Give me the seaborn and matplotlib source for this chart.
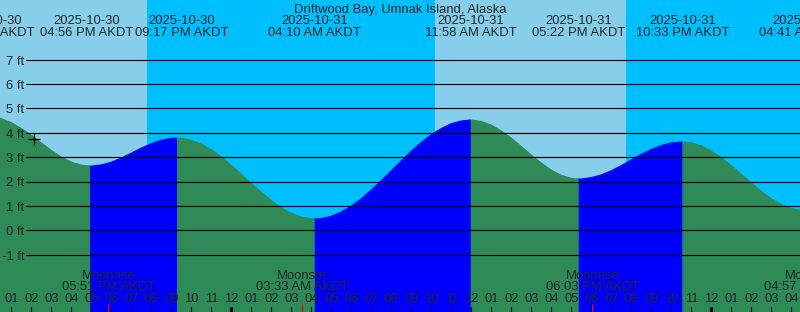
import numpy as np
import pandas as pd
import matplotlib
matplotlib.use("Agg")
import matplotlib.pyplot as plt
import matplotlib.transforms as mtransforms
import seaborn as sns

# ---------------- data (hours since 2025-10-30 00:00 AKDT, heights in ft) ----------------
title = "Driftwood Bay, Umnak Island, Alaska"

# tide height read every half hour
hour_t = [12.0, 12.5, 13.0, 13.5, 14.0, 14.5, 15.0, 15.5, 16.0, 16.5,
          17.0, 17.5, 18.0, 18.5, 19.0, 19.5, 20.0, 20.5, 21.0, 21.5,
          22.0, 22.5, 23.0, 23.5, 24.0, 24.5, 25.0, 25.5, 26.0, 26.5,
          27.0, 27.5, 28.0, 28.5, 29.0, 29.5, 30.0, 30.5, 31.0, 31.5,
          32.0, 32.5, 33.0, 33.5, 34.0, 34.5, 35.0, 35.5, 36.0, 36.5,
          37.0, 37.5, 38.0, 38.5, 39.0, 39.5, 40.0, 40.5, 41.0, 41.5,
          42.0, 42.5, 43.0, 43.5, 44.0, 44.5, 45.0, 45.5, 46.0, 46.5,
          47.0, 47.5, 48.0, 48.5, 49.0, 49.5, 50.0, 50.5, 51.0, 51.5,
          52.0, 52.5, 53.0]
hour_h = [4.65, 4.57, 4.41, 4.17, 3.89, 3.58, 3.27, 3.00, 2.79, 2.67,
          2.63, 2.68, 2.79, 2.96, 3.16, 3.37, 3.55, 3.69, 3.77, 3.77,
          3.69, 3.53, 3.30, 3.00, 2.66, 2.29, 1.91, 1.55, 1.21, 0.92,
          0.69, 0.54, 0.47, 0.48, 0.57, 0.75, 0.99, 1.29, 1.65, 2.03,
          2.44, 2.84, 3.24, 3.60, 3.92, 4.17, 4.37, 4.48, 4.52, 4.46,
          4.31, 4.07, 3.77, 3.43, 3.08, 2.75, 2.46, 2.25, 2.13, 2.10,
          2.16, 2.27, 2.44, 2.65, 2.88, 3.11, 3.31, 3.47, 3.58, 3.62,
          3.58, 3.46, 3.25, 2.97, 2.65, 2.29, 1.94, 1.59, 1.29, 1.05,
          0.89, 0.81, 0.81]

ext_t = [11.867, 16.933, 21.283, 28.167, 35.967, 41.367, 46.55, 52.683]
ext_h = [4.65, 2.63, 3.78, 0.46, 4.52, 2.10, 3.62, 0.80]
ext_date = ["2025-10-30", "2025-10-30", "2025-10-30", "2025-10-31",
            "2025-10-31", "2025-10-31", "2025-10-31", "2025-11-01"]
ext_time = ["11:52 AM AKDT", "04:56 PM AKDT", "09:17 PM AKDT", "04:10 AM AKDT",
            "11:58 AM AKDT", "05:22 PM AKDT", "10:33 PM AKDT", "04:41 AM AKDT"]

moon_t = [17.85, 27.55, 42.05, 52.95]
moon_kind = ["Moonrise", "Moonset", "Moonrise", "Moonset"]
moon_time = ["05:51 PM AKDT", "03:33 AM AKDT", "06:03 PM AKDT", "04:57 AM AKDT"]

sunset_t = [19.785, 43.735]
sunrise_t = [34.185]

now_t = [14.135]
now_h = [3.73]

y_ticks = [-1, 0, 1, 2, 3, 4, 5, 6, 7]

# ---------------- styling ----------------
sns.set_style("white")
plt.rcParams["font.family"] = ["Liberation Sans", "DejaVu Sans"]
FS = 9.4
DY = 2.0  # vertical text correction in pixels

DAY = "#87CEEB"
NIGHT = "#00BFFF"
FLOOD = "#0000FF"
EBB = "#2E8B57"

W, H = 800, 312
fig = plt.figure(figsize=(W / 100, H / 100), dpi=100)
ax = fig.add_axes([0, 0, 1, 1])

# pixel geometry: hour 13 at x=11.3px, 20 px/hour ; 0 ft at y=230.3px, 24.4 px/ft
t0 = 13 - 11.3 / 20
t1 = t0 + W / 20
y_top = 230.3 / 24.4
y_bot = -(H - 230.3) / 24.4

# day / night background
edges = sorted([t0 - 5] + sunset_t + sunrise_t + [t1 + 5])
night = False  # starts in daytime
for a, b in zip(edges[:-1], edges[1:]):
    ax.axvspan(a, b, color=NIGHT if night else DAY, lw=0, zorder=0)
    night = not night

# tide curve: blue while rising (flood), green while falling (ebb)
curve = pd.DataFrame({"t": hour_t + ext_t, "h": hour_h + ext_h})
curve = curve.drop_duplicates("t").sort_values("t")
for i in range(len(ext_t) - 1):
    a, b = ext_t[i], ext_t[i + 1]
    seg = curve[(curve.t >= a) & (curve.t <= b)]
    col = FLOOD if ext_h[i + 1] > ext_h[i] else EBB
    ax.fill_between(seg.t, seg.h, y_bot - 1, color=col, lw=0.6, edgecolor=col, zorder=1)
    sns.lineplot(data=seg, x="t", y="h", color=col, lw=0.8, ax=ax, zorder=2,
                 estimator=None, sort=True)

ax.set_xlim(t0, t1)
ax.set_ylim(y_bot, y_top)
ax.axis("off")

txt_shift = mtransforms.ScaledTranslation(0, -DY / 100, fig.dpi_scale_trans)

# horizontal height lines and labels
xfrac_start = 26 / W
for yv in y_ticks:
    ax.axhline(yv, xmin=xfrac_start, xmax=1, color="black", lw=0.85, zorder=3)
    ax.text(24.5 / W, yv, f"{yv} ft", transform=ax.get_yaxis_transform() + txt_shift,
            ha="right", va="center", fontsize=FS, zorder=5)

bx = ax.get_xaxis_transform()  # x data, y axes fraction

def fy(px):
    return 1 - (px + DY) / H

def fyl(px):
    return 1 - px / H

# hour ticks and labels
for t in range(13, 54):
    lab = f"{(t - 1) % 12 + 1:02d}"
    ax.text(t, fy(297.3), lab, transform=bx, ha="center", va="center", fontsize=FS, zorder=5)
    midnight = (t % 24 == 0)
    ax.plot([t, t], [fyl(306.5), 0], transform=bx, color="black",
            lw=2.2 if midnight else 0.8, zorder=4, solid_capstyle="butt")

# moon events
for t, k, s in zip(moon_t, moon_kind, moon_time):
    ax.plot([t, t], [fyl(304), 0], transform=bx, color="red", lw=0.8, zorder=4,
            solid_capstyle="butt")
    ax.text(t, fy(274), k, transform=bx, ha="center", va="center", fontsize=FS, zorder=5)
    ax.text(t, fy(285.3), s, transform=bx, ha="center", va="center", fontsize=FS, zorder=5)

# tide extreme labels (two crowded ones nudged apart)
nudge_px = {1: -3.5, 2: 4.7}
for i, (t, d, s) in enumerate(zip(ext_t, ext_date, ext_time)):
    tr = mtransforms.offset_copy(bx, fig=fig, x=nudge_px.get(i, 0), y=0, units="dots")
    ax.text(t, fy(19.5), d, transform=tr, ha="center", va="center", fontsize=FS, zorder=5)
    ax.text(t, fy(31.3), s, transform=tr, ha="center", va="center", fontsize=FS, zorder=5)

# title
ax.text(0.5, fy(7.5), title, transform=ax.transAxes, ha="center", va="center",
        fontsize=FS, zorder=5)

# "now" marker
ax.plot(now_t, now_h, marker="+", color="black", markersize=9, mew=0.9, lw=0, zorder=6)

fig.savefig("out.png", dpi=100)
